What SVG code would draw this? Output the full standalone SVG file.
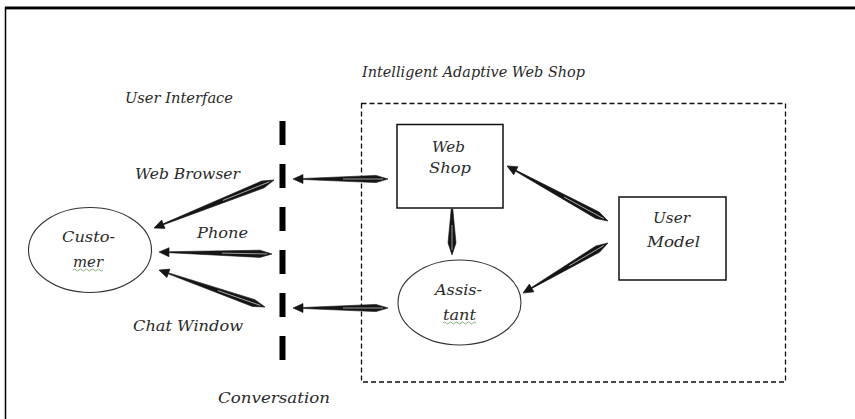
<svg xmlns="http://www.w3.org/2000/svg" width="855" height="419" viewBox="0 0 855 419">
<style>
.t{font-family:"DejaVu Serif","Liberation Serif",serif;font-style:italic;font-size:14.5px;fill:#2a2a2a}
.box{fill:#fff;stroke:#111;stroke-width:1.5}
.ell{fill:#fff;stroke:#333;stroke-width:1.1}
.arw{fill:#151515;stroke:#151515;stroke-width:0.6;stroke-linejoin:round}
.hl{stroke:#bbb;stroke-width:0.8;fill:none}
.sq{fill:none;stroke:#6a9a5a;stroke-width:0.8}
</style>
<rect x="0" y="0" width="855" height="419" fill="#fff"/>
<g id="frame">
<line x1="5" y1="8" x2="855" y2="8" stroke="#000" stroke-width="3"/>
<line x1="5" y1="9.5" x2="855" y2="9.5" stroke="#999" stroke-width="1"/>
<line x1="5.5" y1="7" x2="5.5" y2="419" stroke="#000" stroke-width="1.5"/>
</g>
<g id="shop-boundary">
<rect x="361.5" y="103.5" width="424" height="278.5" fill="none" stroke="#111" stroke-width="1.3" stroke-dasharray="5,3"/>
<text class="t" x="362" y="77" textLength="223" lengthAdjust="spacingAndGlyphs">Intelligent Adaptive  Web Shop</text>
</g>
<g id="conversation-line">
<line x1="282.5" y1="121" x2="282.5" y2="361" stroke="#000" stroke-width="6" stroke-dasharray="24,19"/>
<text class="t" x="125" y="103" textLength="108" lengthAdjust="spacingAndGlyphs">User Interface</text>
<text class="t" x="218" y="403" textLength="112" lengthAdjust="spacingAndGlyphs">Conversation</text>
</g>
<g id="labels">
<text class="t" x="135" y="179" textLength="105" lengthAdjust="spacingAndGlyphs">Web Browser</text>
<text class="t" x="197" y="238" textLength="51" lengthAdjust="spacingAndGlyphs">Phone</text>
<text class="t" x="133" y="331" textLength="110" lengthAdjust="spacingAndGlyphs">Chat Window</text>
</g>
<g id="customer">
<ellipse class="ell" cx="90" cy="250" rx="61.5" ry="42.5"/>
<text class="t" x="62" y="242" textLength="53" lengthAdjust="spacingAndGlyphs">Custo-</text>
<text class="t" x="73" y="267" textLength="30" lengthAdjust="spacingAndGlyphs">mer</text>
<path class="sq" d="M73,270 q1.5,-2 3,0 t3,0 t3,0 t3,0 t3,0 t3,0 t3,0 t3,0 t3,0 t3,0"/>
</g>
<g id="web-shop">
<rect class="box" x="397" y="124.5" width="106" height="83.5"/>
<text class="t" x="432" y="152" textLength="33" lengthAdjust="spacingAndGlyphs">Web</text>
<text class="t" x="429" y="173" textLength="42" lengthAdjust="spacingAndGlyphs">Shop</text>
</g>
<g id="assistant">
<ellipse class="ell" cx="459.5" cy="302.5" rx="61.5" ry="42.5"/>
<text class="t" x="435" y="295" textLength="47" lengthAdjust="spacingAndGlyphs">Assis-</text>
<text class="t" x="443" y="320" textLength="33" lengthAdjust="spacingAndGlyphs">tant</text>
<path class="sq" d="M443,323 q1.5,-2 3,0 t3,0 t3,0 t3,0 t3,0 t3,0 t3,0 t3,0 t3,0 t3,0 t3,0"/>
</g>
<g id="user-model">
<rect class="box" x="619" y="197" width="107" height="83"/>
<text class="t" x="653" y="223" textLength="37" lengthAdjust="spacingAndGlyphs">User</text>
<text class="t" x="647" y="247" textLength="53" lengthAdjust="spacingAndGlyphs">Model</text>
</g>
<g id="connectors">
<g transform="translate(274,180) rotate(158.2)">
<path class="arw" d="M0,0 L12,-3.6 L119.2,-0.5 L119.2,-4.5 L129.2,0 L119.2,4.5 L119.2,0.5 L12,3.6 Z"/>
<path class="hl" d="M5,0 L55,0"/>
</g>
<g transform="translate(272,254) rotate(181)">
<path class="arw" d="M0,0 L12,-3.6 L103,-0.5 L103,-4.5 L113,0 L103,4.5 L103,0.5 L12,3.6 Z"/>
<path class="hl" d="M5,0 L50,0"/>
</g>
<g transform="translate(265,307) rotate(199.2)">
<path class="arw" d="M0,0 L12,-3.6 L102.3,-0.5 L102.3,-4.5 L112.3,0 L102.3,4.5 L102.3,0.5 L12,3.6 Z"/>
<path class="hl" d="M5,0 L50,0"/>
</g>
<g transform="translate(388,179) rotate(180)">
<path class="arw" d="M0,0 L12,-3.6 L85,-0.5 L85,-4.5 L95,0 L85,4.5 L85,0.5 L12,3.6 Z"/>
<path class="hl" d="M5,0 L45,0"/>
</g>
<g transform="translate(388,308) rotate(180)">
<path class="arw" d="M0,0 L12,-3.6 L85,-0.5 L85,-4.5 L95,0 L85,4.5 L85,0.5 L12,3.6 Z"/>
<path class="hl" d="M5,0 L45,0"/>
</g>
<g transform="translate(452,255) rotate(-90)">
<path class="arw" d="M0,0 L12,-4 L46,-0.8 L46,0.8 L12,4 Z"/>
<path class="hl" d="M5,0 L30,0"/>
</g>
<g transform="translate(608,221) rotate(208.6)">
<path class="arw" d="M0,0 L12,-3.6 L105,-0.5 L105,-4.5 L115,0 L105,4.5 L105,0.5 L12,3.6 Z"/>
<path class="hl" d="M5,0 L50,0"/>
</g>
<g transform="translate(608,243) rotate(149.5)">
<path class="arw" d="M0,0 L12,-3.6 L88.6,-0.5 L88.6,-4.5 L98.6,0 L88.6,4.5 L88.6,0.5 L12,3.6 Z"/>
<path class="hl" d="M5,0 L45,0"/>
</g>
</g>
</svg>
